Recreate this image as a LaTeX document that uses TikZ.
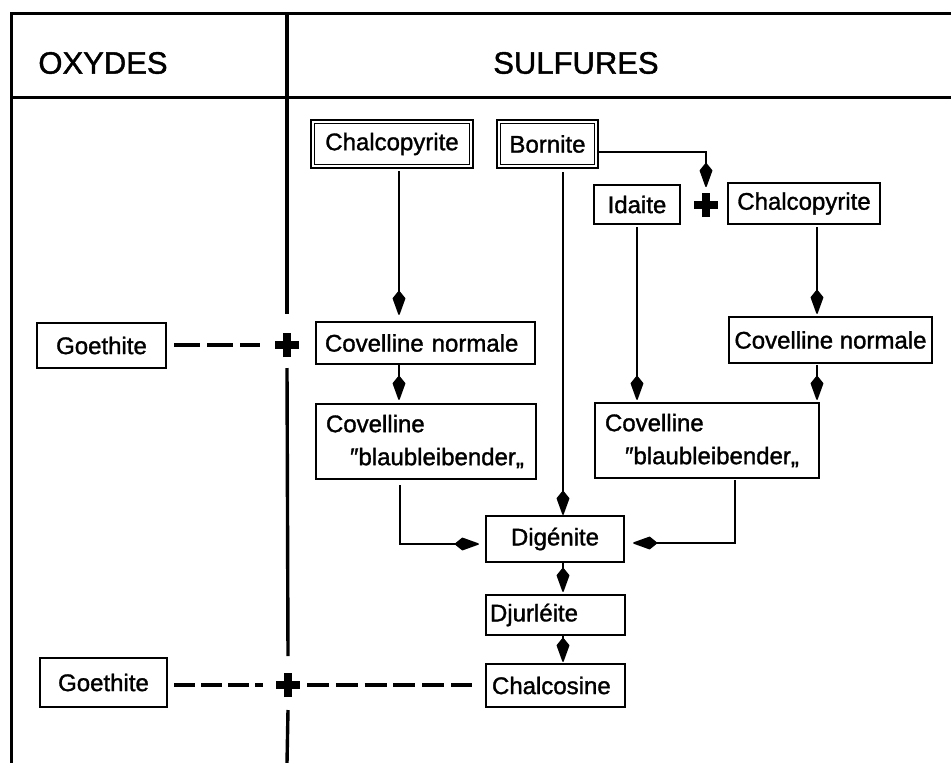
\documentclass[tikz,border=0pt]{standalone}
\usepackage{fontspec}
\setmainfont{Liberation Sans}[FakeBold=1.3]
\usetikzlibrary{arrows.meta}
\begin{document}
\begin{tikzpicture}[x=1pt,y=-1pt,
  box/.style={draw, line width=2.3pt, inner sep=0pt, font=\fontsize{24}{33}\selectfont},
  lbox/.style={box, align=left},
  frame/.style={line width=3pt},
  conn/.style={line width=1.5pt},
  arr/.style={conn, -{Kite[length=26pt,width=13pt,inset=8pt,round]}},
  dashline/.style={line width=3.5pt},
  plusmark/.style={line width=7.5pt},
  head/.style={font=\fontsize{31}{35}\selectfont}
]
\useasboundingbox (0,0) rectangle (951,763);
\fill[white] (0,0) rectangle (951,763);

% frame
\draw[frame] (951,13) -- (11,13) -- (11,763);
\draw[frame] (11,97) -- (951,97);
\coordinate (dtop) at (287,13);
\coordinate (dbot) at (287,763);
\coordinate (plusA) at (287,345);
\coordinate (plusB) at (288,685);
\coordinate (plusC) at (706,205);

% headers
\node[head] (oxy) at (103,63) {OXYDES};
\node[head] (sul) at (576,63) {SULFURES};

% boxes
\node[box, minimum width=162pt, minimum height=48pt] (chalA) at (392,144) {Chalcopyrite};
\node[box, minimum width=101pt, minimum height=48pt] (born) at (547.5,144) {Bornite};
\node[box, minimum width=86pt, minimum height=39pt] (ida) at (637,204.5) {Idaite};
\node[box, minimum width=152pt, minimum height=41pt] (chalB) at (804,203.5) {Chalcopyrite};
\node[box, minimum width=129pt, minimum height=45pt] (goeA) at (101.5,345.5) {Goethite};
\node[lbox, inner xsep=9pt, text width=201pt, minimum height=42pt] (cnA) at (425.5,343) {Covelline normale};
\node[box, minimum width=203pt, minimum height=46pt] (cnB) at (830.5,340) {Covelline normale};
\node[lbox, inner xsep=10pt, text width=200pt, minimum height=75pt] (cbA) at (426,441.5) {Covelline\\\hspace*{24pt}″blaubleibender„};
\node[lbox, inner xsep=10pt, text width=204pt, minimum height=75pt] (cbB) at (707,440.5) {Covelline\\\hspace*{20pt}″blaubleibender„};
\node[box, minimum width=138pt, minimum height=46pt] (dig) at (555,539) {Digénite};
\node[lbox, inner xsep=4pt, text width=131pt, minimum height=40pt] (djur) at (555.5,615) {Djurléite};
\node[lbox, inner xsep=6pt, text width=127pt, minimum height=43pt] (chs) at (555.5,685.5) {Chalcosine};
\node[box, minimum width=127pt, minimum height=49pt] (goeB) at (103.5,682.5) {Goethite};

% inner lines of the double boxes
\foreach \n in {chalA,born}
  \draw[line width=1.3pt] ([xshift=4.5pt,yshift=-4.5pt]\n.north west) rectangle ([xshift=-4.5pt,yshift=4.5pt]\n.south east);

% divider with gaps
\draw[frame, line width=3.4pt] (dtop) -- ([yshift=31pt]plusA);
\draw[frame, line width=3.4pt] ([yshift=-23pt]plusA) -- ([yshift=29pt]plusB);
\draw[frame, line width=3.4pt] ([yshift=-25pt]plusB) -- (dbot);

% plus marks
\foreach \p in {plusA,plusB,plusC}
  \draw[plusmark] ([xshift=-12pt]\p) -- ([xshift=12pt]\p) ([yshift=-12pt]\p) -- ([yshift=12pt]\p);

% x positions of vertical connectors
\coordinate (xA) at (399,0);
\coordinate (xB) at (563,0);
\coordinate (xC) at (637,0);
\coordinate (xD) at (817,0);
\coordinate (xE) at (400,0);
\coordinate (xF) at (735,0);
\coordinate (yb) at (0,152);

% arrows
\draw[arr, shorten <=2pt, shorten >=6pt] (xA |- chalA.south) -- (xA |- cnA.north);
\draw[arr, shorten >=3pt] (xA |- cnA.south) -- (xA |- cbA.north);
\draw[arr, shorten <=3pt] (xB |- born.south) -- (xB |- dig.north);
\draw[arr] (born.east |- yb) -| ([yshift=18pt]plusC);
\draw[arr, shorten <=2pt, shorten >=2pt] (xC |- ida.south) -- (xC |- cbB.north);
\draw[arr, shorten <=2pt, shorten >=2pt] (xD |- chalB.south) -- (xD |- cnB.north);
\draw[arr, shorten <=1pt, shorten >=2pt] (xD |- cnB.south) -- (xD |- cbB.north);
\draw[arr, shorten <=5pt, shorten >=6pt] (xE |- cbA.south) |- ([yshift=-5pt]dig.west);
\draw[arr, shorten <=1pt, shorten >=8pt] (xF |- cbB.south) |- ([yshift=-4pt]dig.east);
\draw[arr, shorten >=2pt] (xB |- dig.south) -- (xB |- djur.north);
\draw[arr, shorten >=1pt] (xB |- djur.south) -- (xB |- chs.north);

% dashed links
\draw[dashline, dash pattern=on 26pt off 7pt, shorten <=7pt, shorten >=27pt] (plusA -| goeA.east) -- (plusA);
\draw[dashline, dash pattern=on 21pt off 6pt, shorten <=6pt, shorten >=25pt] (plusB -| goeB.east) -- (plusB);
\draw[dashline, dash pattern=on 22pt off 6.8pt, shorten <=19pt, shorten >=13pt] (plusB) -- (plusB -| chs.west);
\end{tikzpicture}
\end{document}
